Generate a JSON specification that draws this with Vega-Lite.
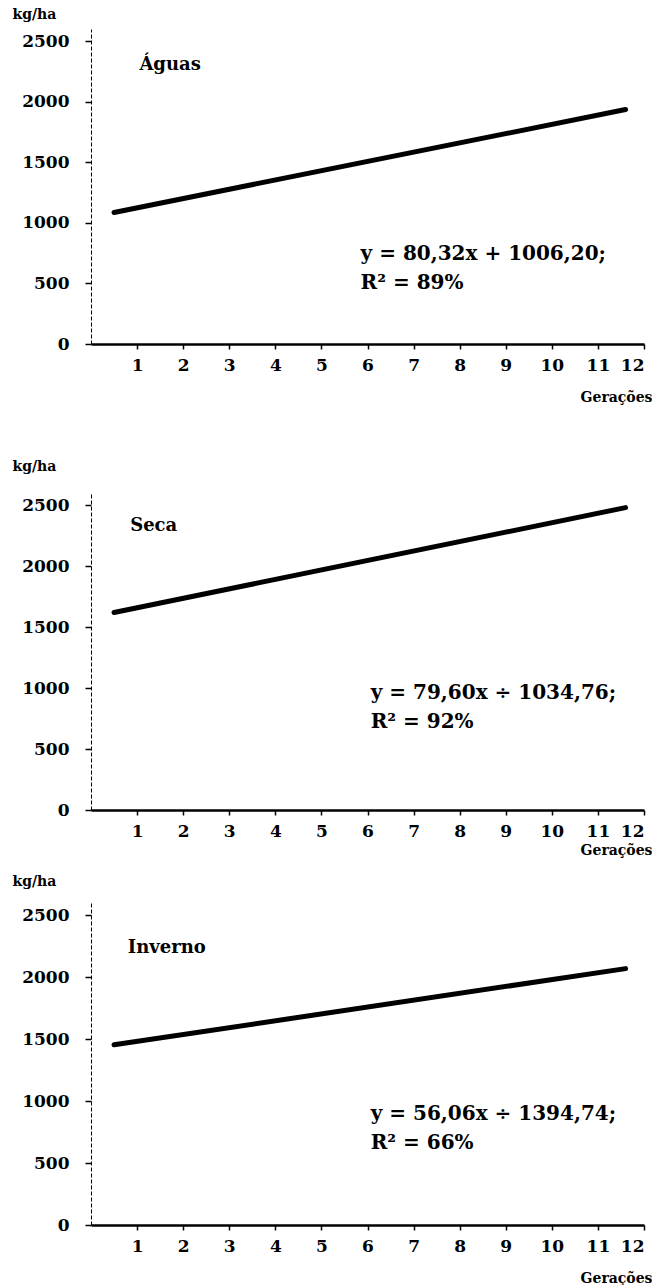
{
  "$schema": "https://vega.github.io/schema/vega-lite/v6.json",
  "padding": {"left": 12, "top": 7, "right": 0, "bottom": 0},
  "background": "white",
  "config": {
    "view": {"stroke": null},
    "font": "DejaVu Serif",
    "text": {"font": "DejaVu Serif", "fontWeight": "bold", "color": "black"},
    "axis": {
      "grid": false,
      "labelFont": "DejaVu Serif",
      "labelFontWeight": "bold",
      "labelFontSize": 17,
      "labelColor": "black",
      "tickColor": "black",
      "domainColor": "black",
      "titleFont": "DejaVu Serif",
      "titleFontWeight": "bold",
      "titleFontSize": 14,
      "titleColor": "black"
    },
    "axisY": {"tickSize": 6, "tickWidth": 1.5, "labelPadding": 16, "domainDash": [4, 2], "domainWidth": 1, "titleAngle": 0, "titleAlign": "left", "titleBaseline": "alphabetic", "titleX": -79, "format": "d"},
    "axisX": {"tickSize": 5, "tickWidth": 1.5, "labelPadding": 8, "domainWidth": 2.5, "titleAnchor": "end", "titleAlign": "right", "titleBaseline": "alphabetic", "titleX": 561}
  },
  "datasets": {
    "lines": [
      {"panel": "Águas", "gen": 0.5, "kg": 1086},
      {"panel": "Águas", "gen": 11.6, "kg": 1935},
      {"panel": "Seca", "gen": 0.5, "kg": 1620},
      {"panel": "Seca", "gen": 11.6, "kg": 2480},
      {"panel": "Inverno", "gen": 0.5, "kg": 1455},
      {"panel": "Inverno", "gen": 11.6, "kg": 2070}
    ],
    "labels": [
      {"panel": "Águas", "kind": "title", "gen": 1.05, "kg": 2300, "label": "Águas"},
      {"panel": "Águas", "kind": "eq", "gen": 5.85, "kg": 740, "label": "y = 80,32x + 1006,20;"},
      {"panel": "Águas", "kind": "eq", "gen": 5.85, "kg": 500, "label": "R² = 89%"},
      {"panel": "Seca", "kind": "title", "gen": 0.85, "kg": 2330, "label": "Seca"},
      {"panel": "Seca", "kind": "eq", "gen": 6.07, "kg": 960, "label": "y = 79,60x ÷ 1034,76;"},
      {"panel": "Seca", "kind": "eq", "gen": 6.07, "kg": 720, "label": "R² = 92%"},
      {"panel": "Inverno", "kind": "title", "gen": 0.8, "kg": 2240, "label": "Inverno"},
      {"panel": "Inverno", "kind": "eq", "gen": 6.07, "kg": 895, "label": "y = 56,06x ÷ 1394,74;"},
      {"panel": "Inverno", "kind": "eq", "gen": 6.07, "kg": 660, "label": "R² = 66%"}
    ]
  },
  "bounds": "flush",
  "spacing": 149,
  "vconcat": [
    {
      "width": 553,
      "height": 315,
      "layer": [
        {
          "data": {"name": "lines"},
          "transform": [{"filter": {"field": "panel", "equal": "Águas"}}],
          "mark": {"type": "line", "color": "black", "strokeWidth": 5, "strokeCap": "round"},
          "encoding": {
            "x": {"field": "gen", "type": "quantitative", "scale": {"domain": [0, 12]}, "axis": {"values": [1,2,3,4,5,6,7,8,9,10,11,12], "title": "Gerações", "titleY": 57}},
            "y": {"field": "kg", "type": "quantitative", "scale": {"domain": [0, 2500]}, "axis": {"values": [0,500,1000,1500,2000,2500], "title": "kg/ha", "titleY": -11}}
          }
        },
        {
          "data": {"name": "labels"},
          "transform": [{"filter": {"field": "panel", "equal": "Águas"}}, {"filter": {"field": "kind", "equal": "title"}}],
          "mark": {"type": "text", "align": "left", "baseline": "middle", "fontSize": 18},
          "encoding": {"x": {"field": "gen", "type": "quantitative"}, "y": {"field": "kg", "type": "quantitative"}, "text": {"field": "label"}}
        },
        {
          "data": {"name": "labels"},
          "transform": [{"filter": {"field": "panel", "equal": "Águas"}}, {"filter": {"field": "kind", "equal": "eq"}}],
          "mark": {"type": "text", "align": "left", "baseline": "middle", "fontSize": 20},
          "encoding": {"x": {"field": "gen", "type": "quantitative"}, "y": {"field": "kg", "type": "quantitative"}, "text": {"field": "label"}}
        }
      ]
    },
    {
      "bounds": "flush",
      "spacing": 93,
      "vconcat": [
        {
          "width": 553,
          "height": 317,
          "layer": [
            {
              "data": {"name": "lines"},
              "transform": [{"filter": {"field": "panel", "equal": "Seca"}}],
              "mark": {"type": "line", "color": "black", "strokeWidth": 5, "strokeCap": "round"},
              "encoding": {
                "x": {"field": "gen", "type": "quantitative", "scale": {"domain": [0, 12]}, "axis": {"values": [1,2,3,4,5,6,7,8,9,10,11,12], "title": "Gerações", "titleY": 44}},
                "y": {"field": "kg", "type": "quantitative", "scale": {"domain": [0, 2500]}, "axis": {"values": [0,500,1000,1500,2000,2500], "title": "kg/ha", "titleY": -23}}
              }
            },
            {
              "data": {"name": "labels"},
              "transform": [{"filter": {"field": "panel", "equal": "Seca"}}, {"filter": {"field": "kind", "equal": "title"}}],
              "mark": {"type": "text", "align": "left", "baseline": "middle", "fontSize": 18},
              "encoding": {"x": {"field": "gen", "type": "quantitative"}, "y": {"field": "kg", "type": "quantitative"}, "text": {"field": "label"}}
            },
            {
              "data": {"name": "labels"},
              "transform": [{"filter": {"field": "panel", "equal": "Seca"}}, {"filter": {"field": "kind", "equal": "eq"}}],
              "mark": {"type": "text", "align": "left", "baseline": "middle", "fontSize": 20},
              "encoding": {"x": {"field": "gen", "type": "quantitative"}, "y": {"field": "kg", "type": "quantitative"}, "text": {"field": "label"}}
            }
          ]
        },
        {
          "width": 553,
          "height": 322,
          "layer": [
            {
              "data": {"name": "lines"},
              "transform": [{"filter": {"field": "panel", "equal": "Inverno"}}],
              "mark": {"type": "line", "color": "black", "strokeWidth": 5, "strokeCap": "round"},
              "encoding": {
                "x": {"field": "gen", "type": "quantitative", "scale": {"domain": [0, 12]}, "axis": {"values": [1,2,3,4,5,6,7,8,9,10,11,12], "title": "Gerações", "titleY": 57}},
                "y": {"field": "kg", "type": "quantitative", "scale": {"domain": [0, 2500]}, "axis": {"values": [0,500,1000,1500,2000,2500], "title": "kg/ha", "titleY": -18}}
              }
            },
            {
              "data": {"name": "labels"},
              "transform": [{"filter": {"field": "panel", "equal": "Inverno"}}, {"filter": {"field": "kind", "equal": "title"}}],
              "mark": {"type": "text", "align": "left", "baseline": "middle", "fontSize": 18},
              "encoding": {"x": {"field": "gen", "type": "quantitative"}, "y": {"field": "kg", "type": "quantitative"}, "text": {"field": "label"}}
            },
            {
              "data": {"name": "labels"},
              "transform": [{"filter": {"field": "panel", "equal": "Inverno"}}, {"filter": {"field": "kind", "equal": "eq"}}],
              "mark": {"type": "text", "align": "left", "baseline": "middle", "fontSize": 20},
              "encoding": {"x": {"field": "gen", "type": "quantitative"}, "y": {"field": "kg", "type": "quantitative"}, "text": {"field": "label"}}
            }
          ]
        }
      ]
    }
  ]
}
